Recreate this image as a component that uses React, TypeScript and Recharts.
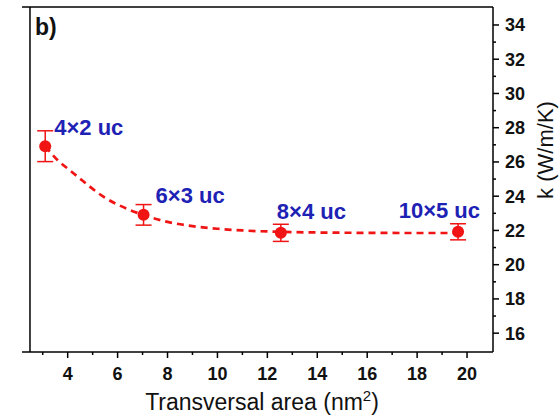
import {
  ComposedChart,
  Line,
  Scatter,
  ErrorBar,
  XAxis,
  YAxis,
  ReferenceLine,
  Label,
} from "recharts";

// measured points
const areaValues = [3.1, 7.04, 12.54, 19.64];
const kValues = [26.92, 22.91, 21.86, 21.92];
const kErrors = [0.9, 0.6, 0.5, 0.47];
const sizeLabels = ["4×2 uc", "6×3 uc", "8×4 uc", "10×5 uc"];

// dashed fit curve
const fitArea = [3.1, 3.6, 4.1, 4.6, 5.4, 6.4, 7.0, 8.0, 9.0, 10.0, 11.0, 12.5, 14.0, 16.0, 18.0, 19.6];
const fitK = [26.92, 26.1, 25.5, 24.9, 24.0, 23.25, 22.92, 22.5, 22.25, 22.1, 22.0, 21.92, 21.88, 21.86, 21.85, 21.85];

const xTicks = [3, 4, 5, 6, 7, 8, 9, 10, 11, 12, 13, 14, 15, 16, 17, 18, 19, 20];
const yTicks = [16, 17, 18, 19, 20, 21, 22, 23, 24, 25, 26, 27, 28, 29, 30, 31, 32, 33, 34];

const X_DOMAIN = [2.17, 21.04];
const Y_DOMAIN = [14.9, 35.05];

const RED = "#f01414";
const BLUE = "#1e22b4";
const FONT = "'Liberation Sans', Arial, sans-serif";

const points = areaValues.map((x, i) => ({ x, k: kValues[i], err: kErrors[i], label: sizeLabels[i] }));
const fitData = fitArea.map((x, i) => ({ x, k: fitK[i] }));

// label placement relative to each point
const labelLayout = [
  { dx: 9, dy: -11, anchor: "start" },
  { dx: 12, dy: -12, anchor: "start" },
  { dx: -4, dy: -14, anchor: "start" },
  { dx: 22, dy: -14, anchor: "end" },
];

const XTick = (props: any) => {
  const { x, y, payload } = props;
  const v = payload.value;
  const major = v % 2 === 0;
  return (
    <g>
      <line x1={x} y1={y} x2={x} y2={y + (major ? 6 : 3)} stroke="#000" strokeWidth={1.5} />
      {major && (
        <text x={x} y={y + 28} textAnchor="middle" fontSize={18} fontWeight="bold" fill="#111" fontFamily={FONT}>
          {v}
        </text>
      )}
    </g>
  );
};

const YTick = (props: any) => {
  const { x, y, payload } = props;
  const v = payload.value;
  const major = v % 2 === 0;
  return (
    <g>
      <line x1={x} y1={y} x2={x + (major ? 6 : 3)} y2={y} stroke="#000" strokeWidth={1.5} />
      {major && (
        <text x={x + 12} y={y + 6.5} textAnchor="start" fontSize={18} fontWeight="bold" fill="#111" fontFamily={FONT}>
          {v}
        </text>
      )}
    </g>
  );
};

const PointShape = (props: any) => {
  const { cx, cy, payload, index } = props;
  const lay = labelLayout[index] || labelLayout[0];
  return (
    <g>
      <circle cx={cx} cy={cy} r={6} fill={RED} />
      <text
        x={cx + lay.dx}
        y={cy + lay.dy}
        textAnchor={lay.anchor}
        fontSize={22}
        fontWeight="bold"
        fill={BLUE}
        fontFamily={FONT}
      >
        {payload.label}
      </text>
    </g>
  );
};

export default function App() {
  return (
    <div style={{ position: "absolute", left: 0, top: 0, background: "#fff" }}>
      <ComposedChart width={560} height={417} margin={{ top: 7, right: 0, bottom: 0, left: 22 }}>
        <XAxis
          type="number"
          dataKey="x"
          domain={X_DOMAIN}
          allowDataOverflow
          ticks={xTicks}
          interval={0}
          height={65}
          tickSize={0}
          tickMargin={0}
          tickLine={false}
          tick={<XTick />}
          axisLine={{ stroke: "#000", strokeWidth: 1.5 }}
        >
          <Label
            content={() => (
              <text x={262} y={410} textAnchor="middle" fontSize={23} fill="#111" fontFamily={FONT}>
                Transversal area (nm
                <tspan fontSize={15} dy={-9}>2</tspan>
                <tspan dy={9}>)</tspan>
              </text>
            )}
          />
        </XAxis>
        <YAxis
          orientation="right"
          type="number"
          dataKey="k"
          domain={Y_DOMAIN}
          allowDataOverflow
          ticks={yTicks}
          interval={0}
          width={67}
          tickSize={0}
          tickMargin={0}
          tickLine={false}
          tick={<YTick />}
          axisLine={{ stroke: "#000", strokeWidth: 1.5 }}
        >
          <Label
            content={() => (
              <text
                transform="translate(553,150) rotate(-90)"
                textAnchor="middle"
                fontSize={22}
                fill="#111"
                fontFamily={FONT}
              >
                k (W/m/K)
              </text>
            )}
          />
        </YAxis>
        {/* frame: top edge and left edge */}
        <ReferenceLine y={Y_DOMAIN[1]} stroke="#000" strokeWidth={1.5} ifOverflow="visible">
          <Label
            content={() => (
              <text x={35} y={35} fontSize={23} fontWeight="bold" fill="#111" fontFamily={FONT}>
                b)
              </text>
            )}
          />
        </ReferenceLine>
        <ReferenceLine x={2.49} stroke="#000" strokeWidth={1.5} />
        <Line
          data={fitData}
          dataKey="k"
          type="monotone"
          stroke={RED}
          strokeWidth={2.7}
          strokeDasharray="7 5"
          dot={false}
          activeDot={false}
          isAnimationActive={false}
        />
        <Scatter data={points} dataKey="k" shape={<PointShape />} isAnimationActive={false}>
          <ErrorBar dataKey="err" direction="y" width={8} stroke={RED} strokeWidth={1.5} />
        </Scatter>
      </ComposedChart>
    </div>
  );
}
